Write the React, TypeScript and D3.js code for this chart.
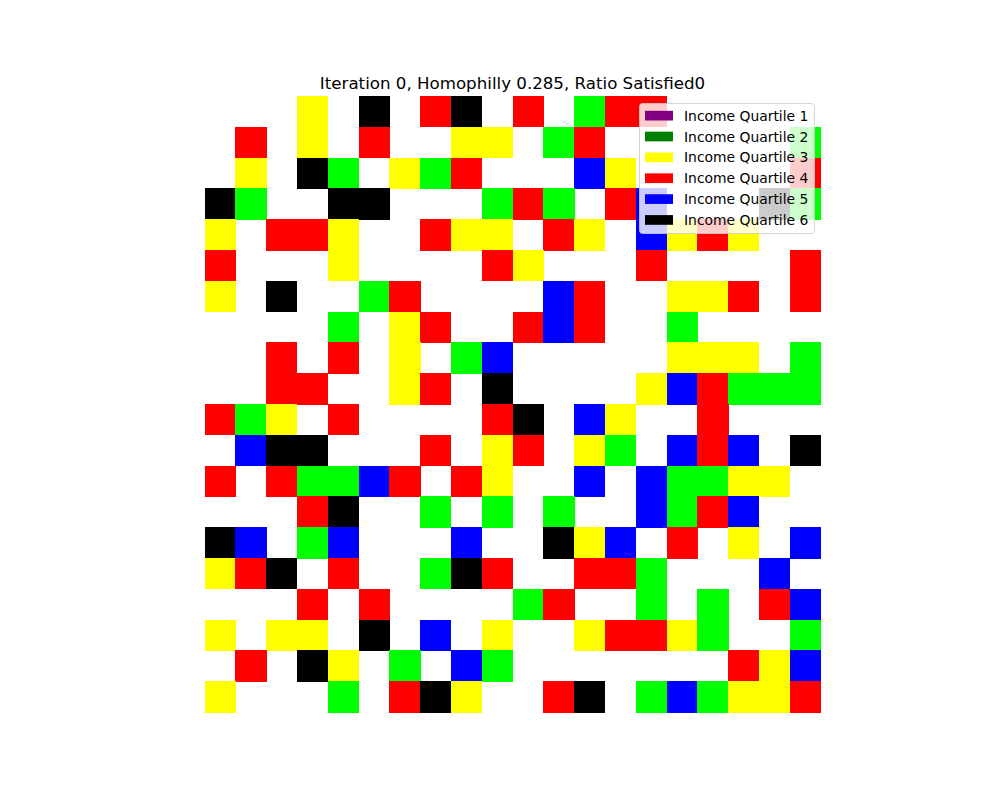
import React from 'react'
import * as d3 from 'd3'

const title = 'Iteration 0, Homophilly 0.285, Ratio Satisfied0'

const legendLabels = [
    'Income Quartile 1',
    'Income Quartile 2',
    'Income Quartile 3',
    'Income Quartile 4',
    'Income Quartile 5',
    'Income Quartile 6',
]
const legendColors = ['purple', 'green', 'yellow', 'red', 'blue', 'black']

// one char per cell: '.' empty, G lime, Y yellow, R red, B blue, K black
const cellCodes = ['.', 'G', 'Y', 'R', 'B', 'K']
const cellColors = ['#ffffff', '#00ff00', '#ffff00', '#ff0000', '#0000ff', '#000000']

const gridRows = [
    '...Y.K.RK.R.GRR.....',
    '.R.Y.R..YY.GR......G',
    '.Y.KG.YGR...BY.....R',
    'KG..KK...GRG.RB...KG',
    'Y.RRY..RYY.RY.BYRY..',
    'R...Y....RY...R....R',
    'Y.K..GR....BR..YYR.R',
    '....G.YR..RBR..G....',
    '..R.R.Y.GB.....YYY.G',
    '..RR..YR.K....YBRGGG',
    'RGY.R....RK.BY..R...',
    '.BKK...R.YR.YG.BRB.K',
    'R.RGGBR.RY..B.BGGYY.',
    '...RK..G.G.G..BGRB..',
    'KB.GB...B..KYB.R.Y.B',
    'YRK.R..GKR..RRG...B.',
    '...R.R....GR..G.G.RB',
    'Y.YY.K.B.Y..YRRYG..G',
    '.R.KY.G.BG.......RYB',
    'Y...G.RKY..RK.GBGYYR',
]

const W = 1000
const H = 800
const plot = { left: 204.5, top: 96, size: 616 }

const cells = gridRows.flatMap((row, r) =>
    row.split('').map((ch, c) => ({ r, c, code: ch }))
)

export default function App() {
    const nCols = gridRows[0].length
    const nRows = gridRows.length

    const x = d3.scaleBand<number>()
        .domain(d3.range(nCols))
        .range([plot.left, plot.left + plot.size])
    const y = d3.scaleBand<number>()
        .domain(d3.range(nRows))
        .range([plot.top, plot.top + plot.size])

    const color = d3.scaleOrdinal<string, string>()
        .domain(cellCodes)
        .range(cellColors)

    const legendY = d3.scalePoint<string>()
        .domain(legendLabels)
        .range([115.7, 220])

    const font = 'DejaVu Sans, sans-serif'

    return (
        <svg width={W} height={H} style={{ position: 'absolute', left: 0, top: 0, background: '#fff' }}>
            <rect x={0} y={0} width={W} height={H} fill='#fff' />
            <g shapeRendering='crispEdges'>
                {cells.filter(d => d.code !== '.').map(d => (
                    <rect
                        key={`${d.r}-${d.c}`}
                        x={x(d.c)}
                        y={y(d.r)}
                        width={x.bandwidth() + 0.5}
                        height={y.bandwidth() + 0.5}
                        fill={color(d.code)}
                    />
                ))}
            </g>
            <text x={plot.left + plot.size / 2} y={88.5} textAnchor='middle'
                fontFamily={font} fontSize={16.67} fill='#000'>
                {title}
            </text>
            <g className='legend'>
                <rect x={639.5} y={103.5} width={175} height={130} rx={3}
                    fill='#fff' fillOpacity={0.8} stroke='#cccccc' strokeOpacity={0.8} />
                {legendLabels.map((label, i) => (
                    <g key={label}>
                        <rect x={645} y={legendY(label)! - 4.9} width={28} height={9.7}
                            fill={legendColors[i]} />
                        <text x={684} y={legendY(label)! + 5} fontFamily={font}
                            fontSize={13.89} fill='#000'>
                            {label}
                        </text>
                    </g>
                ))}
            </g>
        </svg>
    )
}
